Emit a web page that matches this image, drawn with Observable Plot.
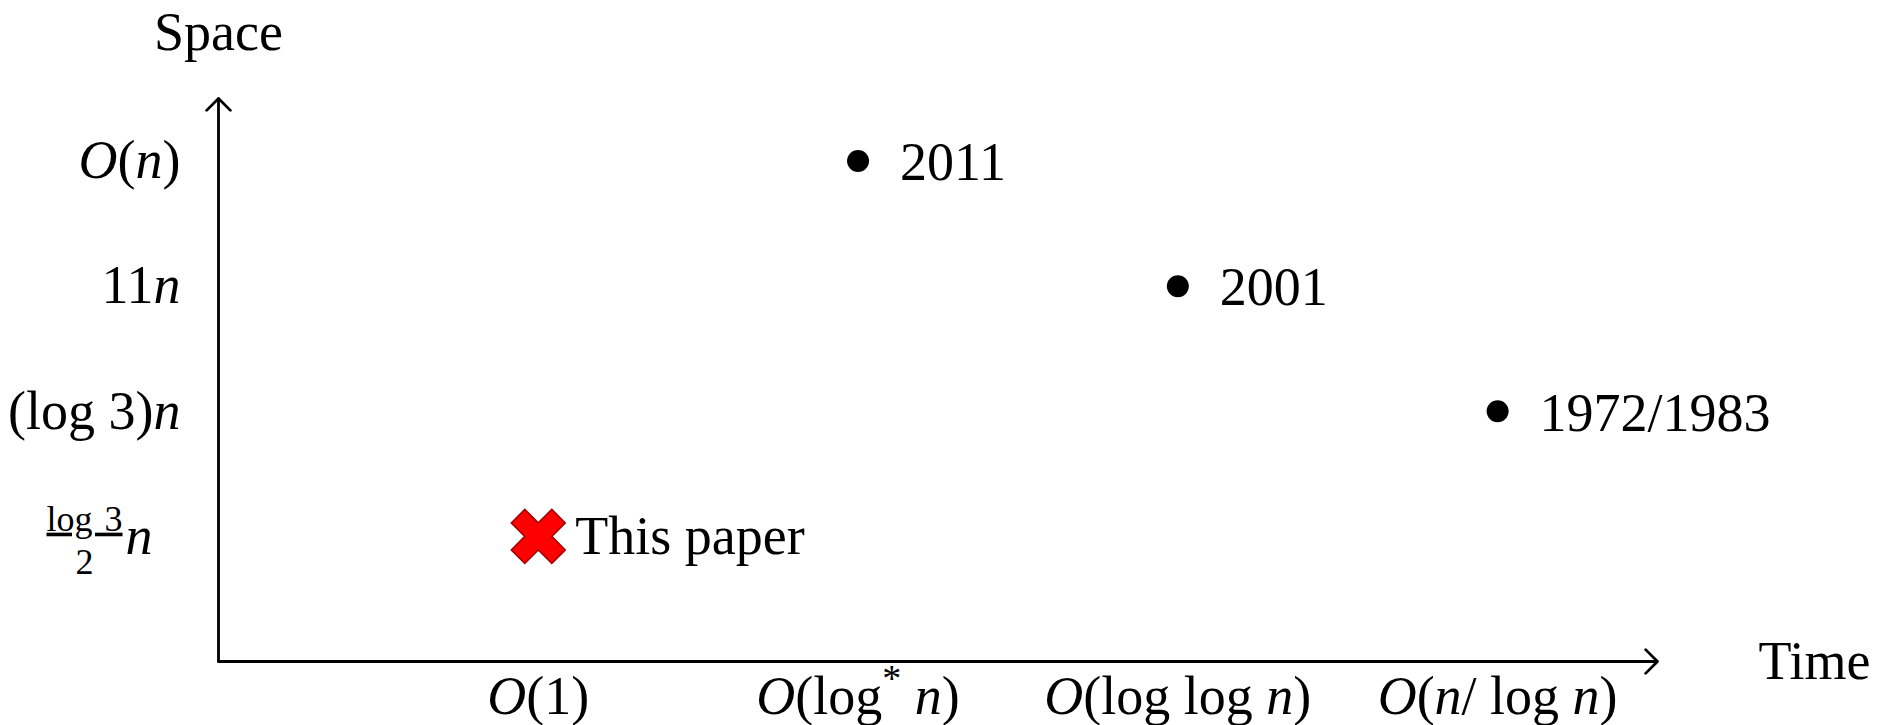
<!DOCTYPE html>
<html>
<head>
<meta charset="utf-8">
<script src="https://cdn.jsdelivr.net/npm/d3@7"></script>
<script src="https://cdn.jsdelivr.net/npm/@observablehq/plot@0.6"></script>
<style>
  html, body { margin: 0; padding: 0; background: #fff; }
</style>
</head>
<body>
<div id="chart"></div>
<script>
// ---- data ----
const timeTicks = [1, 2, 3, 4];
const timeLabels = ["O(1)", "O(log* n)", "O(log log n)", "O(n/ log n)"];
const spaceTicks = [1, 2, 3, 4];
const spaceLabels = ["log 3/2 n", "(log 3)n", "11n", "O(n)"];
const resultLabels = ["This paper", "2011", "2001", "1972/1983"];
const resultTime = [1, 2, 3, 4];
const resultSpace = [1, 4, 3, 2];
const resultIsOurs = [true, false, false, false];
const axisMax = 4.5;
const xAxisTitle = "Time";
const yAxisTitle = "Space";

// ---- derived tables ----
const results = resultLabels.map((label, i) => ({
  label, time: resultTime[i], space: resultSpace[i], ours: resultIsOurs[i]
}));
const axes = [
  {x1: 0, y1: 0, x2: axisMax, y2: 0},
  {x1: 0, y1: 0, x2: 0, y2: axisMax}
];

const FONT = "'Liberation Serif', 'DejaVu Serif', serif";
const FS = 54;

// heavy multiplication X symbol
const heavyX = {
  draw(context, size) {
    const e = Math.sqrt(size / Math.PI);
    const s = e * Math.SQRT2;
    const a = s * 0.25, L = s - a;
    const pts = [[-a,-L],[a,-L],[a,-a],[L,-a],[L,a],[a,a],[a,L],[-a,L],[-a,a],[-L,a],[-L,-a],[-a,-a]];
    const c = Math.SQRT1_2;
    pts.forEach(([x, y], i) => {
      const X = (x - y) * c, Y = (x + y) * c;
      if (i) context.lineTo(X, Y); else context.moveTo(X, Y);
    });
    context.closePath();
  }
};

const svg = Plot.plot({
  width: 1893,
  height: 725,
  marginLeft: 218,
  marginRight: 236,
  marginTop: 98,
  marginBottom: 64,
  style: {fontFamily: FONT, fontSize: FS + "px", color: "#000", background: "#fff"},
  x: {domain: [0, axisMax], axis: null},
  y: {domain: [0, axisMax], axis: null},
  marks: [
    Plot.arrow(axes, {x1: "x1", y1: "y1", x2: "x2", y2: "y2",
      stroke: "#000", strokeWidth: 2.8, headAngle: 90, headLength: 9}),
    Plot.axisX({ticks: timeTicks, tickFormat: d => timeLabels[timeTicks.indexOf(d)],
      tickSize: 0, tickPadding: 14, fontSize: FS, fontFamily: FONT, fill: "#000", label: null}),
    Plot.axisY({ticks: spaceTicks, tickFormat: d => spaceLabels[spaceTicks.indexOf(d)],
      tickSize: 0, tickPadding: 38, fontSize: FS, fontFamily: FONT, fill: "#000", label: null}),
    Plot.text([xAxisTitle], {x: axisMax, y: 0, text: d => d, textAnchor: "start", dx: 101,
      fontSize: FS, fontFamily: FONT, fill: "#000"}),
    Plot.text([yAxisTitle], {x: 0, y: axisMax, text: d => d, textAnchor: "middle", dy: -66,
      fontSize: FS, fontFamily: FONT, fill: "#000"}),
    Plot.dot(results.filter(d => !d.ours), {x: "time", y: "space", r: 11, fill: "#000", stroke: null}),
    Plot.dot(results.filter(d => d.ours), {x: "time", y: "space", r: 27, symbol: heavyX,
      fill: "#ff0000", stroke: "#a30000", strokeWidth: 1.5}),
    Plot.text(results.filter(d => !d.ours), {x: "time", y: "space", text: "label", textAnchor: "start",
      dx: 42, dy: 2, fontSize: FS, fontFamily: FONT, fill: "#000"}),
    Plot.text(results.filter(d => d.ours), {x: "time", y: "space", text: "label", textAnchor: "start",
      dx: 37, fontSize: FS, fontFamily: FONT, fill: "#000"})
  ]
});

document.getElementById("chart").appendChild(svg);

// ---- math typesetting of tick labels ----
const mathLabels = new Set([...timeLabels, ...spaceLabels]);
function tokens(label) {
  const out = [];
  for (const ch of label) {
    const kind = ch === "*" ? "sup" : (ch === "O" || ch === "n") ? "it" : "rm";
    if (out.length && out[out.length - 1].kind === kind) out[out.length - 1].s += ch;
    else out.push({kind, s: ch});
  }
  return out;
}
d3.select(svg).selectAll("text").each(function() {
  const label = this.textContent;
  if (!mathLabels.has(label)) return;
  const sel = d3.select(this).style("white-space", "pre");
  const frac = label.match(/^(.+)\/(\d+) (.+)$/);
  sel.text(null);
  if (frac) {
    const fs2 = 36;
    const num = sel.append("tspan").attr("font-size", fs2).attr("dy", -23)
      .style("text-decoration", "underline").text(frac[1].replace(" ", "\u2004"));
    const den = sel.append("tspan").attr("font-size", fs2).text(frac[2]);
    const rest = sel.append("tspan").attr("font-style", "italic").attr("font-size", FS).text(frac[3]);
    const nw = num.node().getComputedTextLength();
    const dw = den.node().getComputedTextLength();
    den.attr("dx", -(nw + dw) / 2).attr("dy", 43);
    rest.attr("dx", (nw - dw) / 2 + 3).attr("dy", -20);
    const tr = this.getAttribute("transform") || "";
    this.setAttribute("transform", tr + " translate(-28,0)");
    return;
  }
  let pending = 0;
  for (const t of tokens(label)) {
    const ts = sel.append("tspan").text(t.s);
    if (t.kind === "it") ts.attr("font-style", "italic");
    if (t.kind === "sup") {
      ts.attr("font-size", Math.round(FS * 0.7)).attr("dy", -0.42 * FS);
      pending = 0.42 * FS;
    } else if (pending) {
      ts.attr("dy", pending);
      pending = 0;
    }
  }
});
</script>
</body>
</html>
